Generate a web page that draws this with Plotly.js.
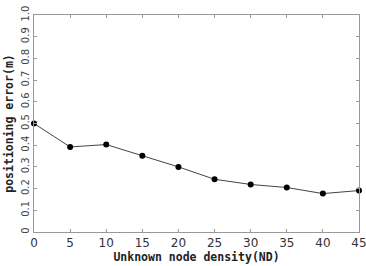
<!DOCTYPE html>
<html><head><meta charset="utf-8">
<script src="https://cdn.plot.ly/plotly-3.0.1.min.js"></script>
<style>html,body{margin:0;padding:0;background:#fff;}#chart{width:366px;height:266px;}</style>
</head><body><div id="chart"></div>
<script>
const densities = [0, 5, 10, 15, 20, 25, 30, 35, 40, 45];
const positioningError = [0.50, 0.392, 0.403, 0.351, 0.300, 0.243, 0.219, 0.205, 0.177, 0.191];
const xTickVals = [0, 5, 10, 15, 20, 25, 30, 35, 40, 45];
const yTickVals = [0, 0.1, 0.2, 0.3, 0.4, 0.5, 0.6, 0.7, 0.8, 0.9, 1.0];
const yTickText = ['0', '0.1', '0.2', '0.3', '0.4', '0.5', '0.6', '0.7', '0.8', '0.9', '1.0'];

Plotly.newPlot('chart', [{
  x: densities, y: positioningError, type: 'scatter', mode: 'lines+markers',
  line: {color: '#444', width: 1},
  marker: {color: '#000', size: 6},
  cliponaxis: false
}], {
  width: 366, height: 266,
  margin: {l: 34, r: 7, t: 15, b: 34},
  paper_bgcolor: '#fff', plot_bgcolor: '#fff',
  showlegend: false,
  font: {family: 'DejaVu Sans Mono', color: '#222'},
  xaxis: {
    range: [0, 45], tickvals: xTickVals, ticks: 'inside', ticklen: 3, tickcolor: '#999',
    showline: true, linecolor: '#999', linewidth: 1, mirror: 'ticks', showgrid: false, zeroline: false,
    automargin: false, ticklabeloverflow: 'allow',
    tickfont: {family: 'DejaVu Sans', size: 12, color: '#333'},
    title: {text: '<b>Unknown node density(ND)</b>', font: {family: 'DejaVu Sans Mono', size: 11.5, color: '#222'}, standoff: 0}
  },
  yaxis: {
    range: [0, 1], tickvals: yTickVals, ticktext: yTickText, ticks: 'inside', ticklen: 3, tickcolor: '#999',
    showline: true, linecolor: '#999', linewidth: 1, mirror: 'ticks', showgrid: false, zeroline: false,
    automargin: false, ticklabeloverflow: 'allow',
    tickangle: -90, tickfont: {family: 'DejaVu Sans', size: 10, color: '#444'},
    title: {text: '<b>positioning error(m)</b>', font: {family: 'DejaVu Sans Mono', size: 11.5, color: '#222'}, standoff: 3}
  }
}, {staticPlot: true});
</script></body></html>
